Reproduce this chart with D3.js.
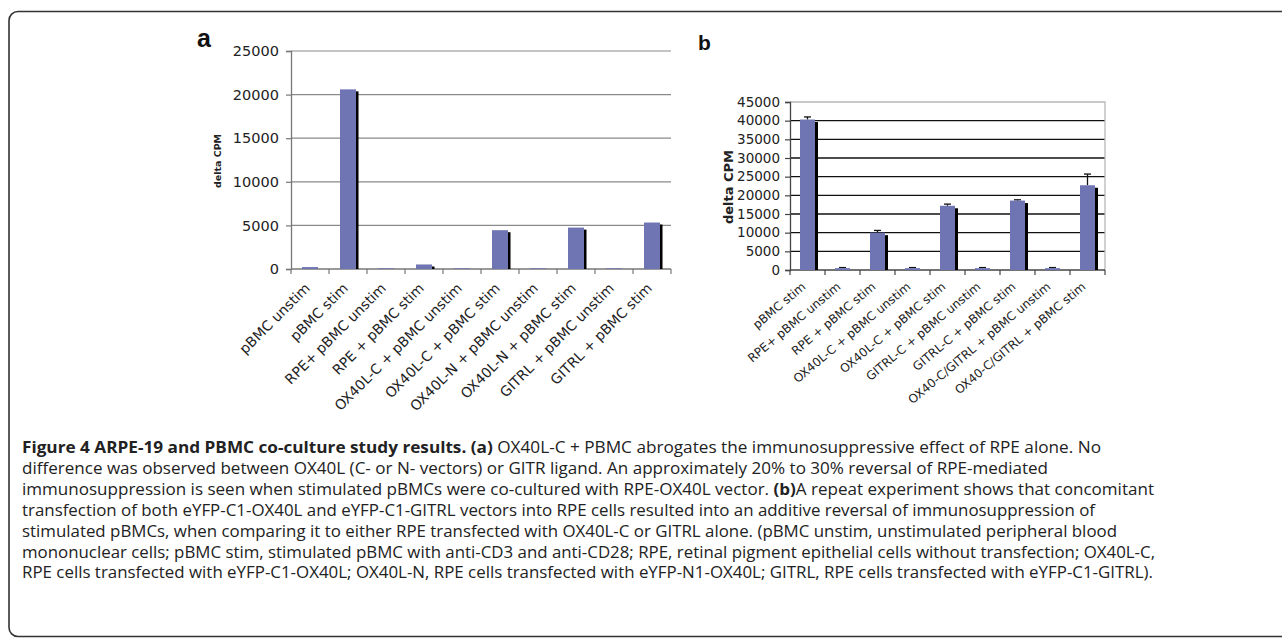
<!DOCTYPE html>
<html><head><meta charset="utf-8">
<script src="https://cdn.jsdelivr.net/npm/d3@7"></script>
<style>
html,body{margin:0;padding:0;background:#fff;overflow:hidden}
svg{display:block}
</style></head>
<body>
<svg id="c" width="1282" height="639"></svg>
<script>
// ---------- data ----------
const catsA = ["pBMC unstim","pBMC stim","RPE+ pBMC unstim","RPE + pBMC stim","OX40L-C + pBMC unstim","OX40L-C + pBMC stim","OX40L-N + pBMC unstim","OX40L-N + pBMC stim","GITRL + pBMC unstim","GITRL + pBMC stim"];
const valsA = [220, 20600, 80, 520, 80, 4450, 80, 4750, 80, 5330];
const ticksA = [0, 5000, 10000, 15000, 20000, 25000];

const catsB = ["pBMC stim","RPE+ pBMC unstim","RPE + pBMC stim","OX40L-C + pBMC unstim","OX40L-C + pBMC stim","GITRL-C + pBMC unstim","GITRL-C + pBMC stim","OX40-C/GITRL + pBMC unstim","OX40-C/GITRL + pBMC stim"];
const valsB = [40300, 500, 10000, 500, 17200, 500, 18600, 500, 22700];
const errB  = [700, 150, 600, 150, 450, 150, 200, 150, 3000];
const ticksB = [0, 5000, 10000, 15000, 20000, 25000, 30000, 35000, 40000, 45000];

const captionLines = [
  [["Figure 4 ARPE-19 and PBMC co-culture study results. (a)", true], [" OX40L-C + PBMC abrogates the immunosuppressive effect of RPE alone. No", false]],
  [["difference was observed between OX40L (C- or N- vectors) or GITR ligand. An approximately 20% to 30% reversal of RPE-mediated", false]],
  [["immunosuppression is seen when stimulated pBMCs were co-cultured with RPE-OX40L vector. ", false], ["(b)", true], ["A repeat experiment shows that concomitant", false]],
  [["transfection of both eYFP-C1-OX40L and eYFP-C1-GITRL vectors into RPE cells resulted into an additive reversal of immunosuppression of", false]],
  [["stimulated pBMCs, when comparing it to either RPE transfected with OX40L-C or GITRL alone. (pBMC unstim, unstimulated peripheral blood", false]],
  [["mononuclear cells; pBMC stim, stimulated pBMC with anti-CD3 and anti-CD28; RPE, retinal pigment epithelial cells without transfection; OX40L-C,", false]],
  [["RPE cells transfected with eYFP-C1-OX40L; OX40L-N, RPE cells transfected with eYFP-N1-OX40L; GITRL, RPE cells transfected with eYFP-C1-GITRL).", false]]
];
const captionEnds = [1101, 1048, 1154, 1095, 1117, 1155, 1153];

// ---------- drawing ----------
const svg = d3.select("#c");
const barColor = "#6f74b2";
const sans = "'DejaVu Sans', Verdana, sans-serif";

// outer frame
svg.append("rect").attr("x", 9).attr("y", 11.5).attr("width", 1300).attr("height", 625)
  .attr("rx", 9).attr("fill", "none").attr("stroke", "#333").attr("stroke-width", 1.6);

// ===== Panel a =====
const xA = d3.scaleBand().domain(catsA).range([291, 671]).padding(0);
const yA = d3.scaleLinear().domain([0, 25000]).range([269, 51]);
const gA = svg.append("g");

gA.selectAll("line.grid").data(ticksA.filter(t => t > 0)).join("line")
  .attr("x1", 291).attr("x2", 671).attr("y1", d => yA(d)).attr("y2", d => yA(d))
  .attr("stroke", "#8a8a8a").attr("stroke-width", 1.2);

const axA = gA.append("g").attr("transform", "translate(291,0)")
  .call(d3.axisLeft(yA).tickValues(ticksA).tickSize(5).tickPadding(7).tickFormat(d3.format("d")));
axA.select(".domain").attr("stroke", "#777").attr("stroke-width", 1.3);
axA.selectAll(".tick line").attr("stroke", "#777").attr("stroke-width", 1.2);
axA.selectAll(".tick text").attr("font-family", sans).attr("font-size", 14.5).attr("fill", "#222");

gA.append("line").attr("x1", 291).attr("x2", 671).attr("y1", yA(0)).attr("y2", yA(0))
  .attr("stroke", "#777").attr("stroke-width", 1.3);
const bA = catsA.map(c => xA(c)).concat([671]);
gA.selectAll("line.xt").data(bA).join("line")
  .attr("x1", d => d).attr("x2", d => d).attr("y1", yA(0)).attr("y2", yA(0) + 5)
  .attr("stroke", "#777").attr("stroke-width", 1.2);

const bwA = 16;
gA.selectAll("rect.sh").data(catsA).join("rect")
  .attr("x", (d) => xA(d) + xA.bandwidth() / 2 - bwA / 2 + 2.5)
  .attr("y", (d, i) => yA(valsA[i]) + 2)
  .attr("width", bwA).attr("height", (d, i) => Math.max(0, yA(0) - yA(valsA[i]) - 2))
  .attr("fill", "#000");
gA.selectAll("rect.bar").data(catsA).join("rect")
  .attr("x", (d) => xA(d) + xA.bandwidth() / 2 - bwA / 2)
  .attr("y", (d, i) => yA(valsA[i]))
  .attr("width", bwA).attr("height", (d, i) => yA(0) - yA(valsA[i]))
  .attr("fill", barColor);

gA.selectAll("text.xl").data(catsA).join("text")
  .attr("transform", d => `translate(${xA(d) + xA.bandwidth() / 2 + 1},289) rotate(-45)`)
  .attr("text-anchor", "end").attr("font-family", sans).attr("font-size", 14).attr("fill", "#222")
  .text(d => d);

gA.append("text").attr("transform", "translate(221,161) rotate(-90)")
  .attr("text-anchor", "middle").attr("font-family", sans).attr("font-weight", "bold")
  .attr("font-size", 9.5).attr("fill", "#222").text("delta CPM");

svg.append("text").attr("x", 197).attr("y", 47).attr("font-family", "'Liberation Sans', Arial, sans-serif")
  .attr("font-weight", "bold").attr("font-size", 25).attr("fill", "#111").text("a");

// ===== Panel b =====
const xB = d3.scaleBand().domain(catsB).range([790, 1105]).padding(0);
const yB = d3.scaleLinear().domain([0, 45000]).range([270, 102]);
const gB = svg.append("g");

gB.selectAll("line.grid").data(ticksB.filter(t => t > 0 && t < 45000)).join("line")
  .attr("x1", 790).attr("x2", 1105).attr("y1", d => yB(d)).attr("y2", d => yB(d))
  .attr("stroke", "#111").attr("stroke-width", 1.3);
gB.append("path").attr("d", `M790,${yB(45000)}H1105V${yB(0)}`)
  .attr("fill", "none").attr("stroke", "#b8b8b8").attr("stroke-width", 1.3);

const axB = gB.append("g").attr("transform", "translate(790,0)")
  .call(d3.axisLeft(yB).tickValues(ticksB).tickSize(5).tickPadding(5).tickFormat(d3.format("d")));
axB.select(".domain").attr("stroke", "#444").attr("stroke-width", 1.3);
axB.selectAll(".tick line").attr("stroke", "#444").attr("stroke-width", 1.2);
axB.selectAll(".tick text").attr("font-family", sans).attr("font-size", 13.5).attr("fill", "#222");

gB.append("line").attr("x1", 790).attr("x2", 1105).attr("y1", yB(0)).attr("y2", yB(0))
  .attr("stroke", "#444").attr("stroke-width", 1.3);
const bB = catsB.map(c => xB(c)).concat([1105]);
gB.selectAll("line.xt").data(bB).join("line")
  .attr("x1", d => d).attr("x2", d => d).attr("y1", yB(0)).attr("y2", yB(0) + 5)
  .attr("stroke", "#444").attr("stroke-width", 1.2);

const bwB = 15;
gB.selectAll("rect.sh").data(catsB).join("rect")
  .attr("x", d => xB(d) + xB.bandwidth() / 2 - bwB / 2 + 3)
  .attr("y", (d, i) => yB(valsB[i]) + 2.5)
  .attr("width", bwB).attr("height", (d, i) => Math.max(0, yB(0) - yB(valsB[i]) - 2.5))
  .attr("fill", "#000");
gB.selectAll("line.err").data(catsB).join("line")
  .attr("x1", d => xB(d) + xB.bandwidth() / 2).attr("x2", d => xB(d) + xB.bandwidth() / 2)
  .attr("y1", (d, i) => yB(valsB[i])).attr("y2", (d, i) => yB(valsB[i] + errB[i]))
  .attr("stroke", "#111").attr("stroke-width", 1.3);
gB.selectAll("line.cap").data(catsB).join("line")
  .attr("x1", d => xB(d) + xB.bandwidth() / 2 - 3.5).attr("x2", d => xB(d) + xB.bandwidth() / 2 + 3.5)
  .attr("y1", (d, i) => yB(valsB[i] + errB[i])).attr("y2", (d, i) => yB(valsB[i] + errB[i]))
  .attr("stroke", "#111").attr("stroke-width", 1.3);
gB.selectAll("rect.bar").data(catsB).join("rect")
  .attr("x", d => xB(d) + xB.bandwidth() / 2 - bwB / 2)
  .attr("y", (d, i) => yB(valsB[i]))
  .attr("width", bwB).attr("height", (d, i) => yB(0) - yB(valsB[i]))
  .attr("fill", barColor);

gB.selectAll("text.xl").data(catsB).join("text")
  .attr("transform", d => `translate(${xB(d) + xB.bandwidth() / 2 - 1},288) rotate(-40)`)
  .attr("text-anchor", "end").attr("font-family", sans).attr("font-size", 12).attr("fill", "#222")
  .text(d => d);

gB.append("text").attr("transform", "translate(733,187) rotate(-90)")
  .attr("text-anchor", "middle").attr("font-family", sans).attr("font-weight", "bold")
  .attr("font-size", 13).attr("fill", "#222").text("delta CPM");

svg.append("text").attr("x", 698).attr("y", 50).attr("font-family", "'Liberation Sans', Arial, sans-serif")
  .attr("font-weight", "bold").attr("font-size", 21).attr("fill", "#111").text("b");

// ===== Caption =====
const cap = svg.append("g");
captionLines.forEach((segs, i) => {
  const t = cap.append("text").attr("x", 22).attr("y", 453 + i * 20.9)
    .attr("font-family", "'Open Sans', 'Noto Sans', sans-serif").attr("font-size", 15.5).attr("fill", "#222")
    .attr("textLength", captionEnds[i] - 22).attr("lengthAdjust", "spacingAndGlyphs");
  segs.forEach(s => {
    t.append("tspan").attr("font-weight", s[1] ? "bold" : "normal").text(s[0]);
  });
});
</script>
</body></html>
